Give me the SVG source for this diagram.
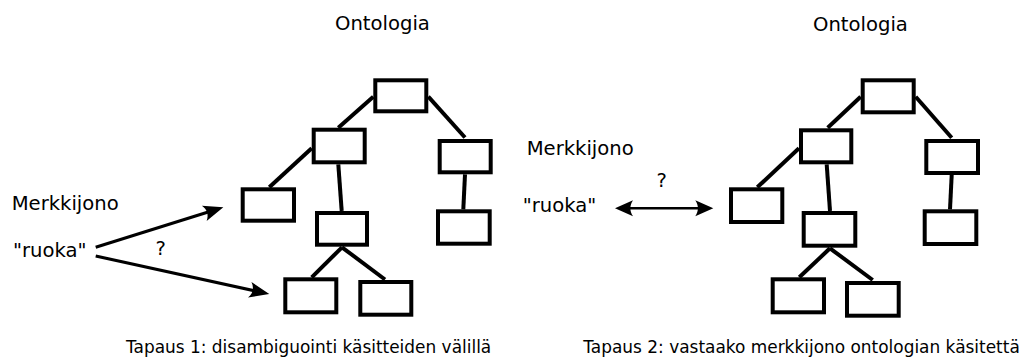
<svg xmlns="http://www.w3.org/2000/svg" width="1026" height="359" viewBox="0 0 1026 359">
<style>
text{font-family:"DejaVu Sans","Liberation Sans",sans-serif;fill:#000}
.lbl{font-size:19.6px}
.cap{font-size:16.95px}
.box{fill:#fff;stroke:#000;stroke-width:4}
.edge{stroke:#000;stroke-width:4;fill:none}
.arr{stroke:#000;stroke-width:3;fill:none}
.arr2{stroke:#000;stroke-width:2.5;fill:none}
</style>
<defs>
<marker id="ah" markerUnits="userSpaceOnUse" viewBox="-12 -10 24 20" markerWidth="24" markerHeight="20" refX="0" refY="0" orient="auto" overflow="visible">
<path d="M10,0 L-10,-8 C-6,-3 -6,3 -10,8 Z" fill="#000"/>
</marker>
<marker id="ah2" markerUnits="userSpaceOnUse" viewBox="-12 -10 24 20" markerWidth="24" markerHeight="20" refX="0" refY="0" orient="auto-start-reverse" overflow="visible">
<path d="M9,0 L-9,-8 C-5.5,-3 -5.5,3 -9,8 Z" fill="#000"/>
</marker>
</defs>
<g id="labels">
<text class="lbl" x="335" y="29.5">Ontologia</text>
<text class="lbl" x="813" y="30.5">Ontologia</text>
<text class="lbl" x="11.7" y="210">Merkkijono</text>
<text class="lbl" x="13" y="256.5">"ruoka"</text>
<text class="lbl" x="155.5" y="255">?</text>
<text class="lbl" x="526.7" y="155">Merkkijono</text>
<text class="lbl" x="522.7" y="211.5">"ruoka"</text>
<text class="lbl" x="656.5" y="187.3">?</text>
<text class="cap" x="126" y="352.5">Tapaus 1: disambiguointi käsitteiden välillä</text>
<text class="cap" x="583.3" y="352.5">Tapaus 2: vastaako merkkijono ontologian käsitettä</text>
</g>
<g id="connectors">
<line class="edge" x1="373.3" y1="96.7" x2="338.3" y2="127.7"/>
<line class="edge" x1="428.3" y1="96.7" x2="465" y2="137.5"/>
<line class="edge" x1="311.7" y1="148.3" x2="269.3" y2="187.3"/>
<line class="edge" x1="338.3" y1="164.3" x2="341.7" y2="211"/>
<line class="edge" x1="465" y1="174.3" x2="463.3" y2="209.3"/>
<line class="edge" x1="342" y1="247.3" x2="311.7" y2="277.3"/>
<line class="edge" x1="342" y1="247.3" x2="385" y2="279.5"/>
<line class="edge" x1="860.7" y1="96.7" x2="827.7" y2="127.7"/>
<line class="edge" x1="915.7" y1="96.7" x2="951.7" y2="137.7"/>
<line class="edge" x1="799" y1="148.3" x2="757.3" y2="187.3"/>
<line class="edge" x1="826.7" y1="164.3" x2="830" y2="211"/>
<line class="edge" x1="951.7" y1="175" x2="950" y2="209.3"/>
<line class="edge" x1="830" y1="248.3" x2="799.3" y2="277.3"/>
<line class="edge" x1="830" y1="248.3" x2="872.7" y2="280"/>
<line class="arr" x1="95.7" y1="247.3" x2="213.8" y2="210.3" marker-end="url(#ah)"/>
<line class="arr" x1="95.7" y1="256" x2="259.5" y2="291.9" marker-end="url(#ah)"/>
<line class="arr2" x1="624" y1="208.3" x2="704.3" y2="208.3" marker-start="url(#ah2)" marker-end="url(#ah2)"/>
</g>
<g id="n1-root"><rect class="box" x="375.3" y="80.3" width="51" height="31"/></g>
<g id="n1-l1"><rect class="box" x="313.7" y="129.7" width="51" height="32.6"/></g>
<g id="n1-r1"><rect class="box" x="439.7" y="141" width="51" height="31.3"/></g>
<g id="n1-ll"><rect class="box" x="242.7" y="189.3" width="51.3" height="31.4"/></g>
<g id="n1-m2"><rect class="box" x="317" y="213" width="50" height="31.7"/></g>
<g id="n1-r2"><rect class="box" x="438" y="211.3" width="51.7" height="32.4"/></g>
<g id="n1-b1"><rect class="box" x="285.3" y="279.3" width="51" height="33"/></g>
<g id="n1-b2"><rect class="box" x="360.3" y="282" width="51" height="32.7"/></g>
<g id="n2-root"><rect class="box" x="862.7" y="80.3" width="51" height="32"/></g>
<g id="n2-l1"><rect class="box" x="801" y="130.3" width="50.3" height="32"/></g>
<g id="n2-r1"><rect class="box" x="926.3" y="141" width="51.7" height="32"/></g>
<g id="n2-ll"><rect class="box" x="731" y="189.3" width="51.3" height="32.7"/></g>
<g id="n2-m2"><rect class="box" x="803.7" y="213" width="51.6" height="32.7"/></g>
<g id="n2-r2"><rect class="box" x="924.7" y="211.3" width="51.6" height="32.7"/></g>
<g id="n2-b1"><rect class="box" x="772.7" y="279.3" width="51.3" height="33"/></g>
<g id="n2-b2"><rect class="box" x="847" y="283" width="51.7" height="32.7"/></g>
</svg>
